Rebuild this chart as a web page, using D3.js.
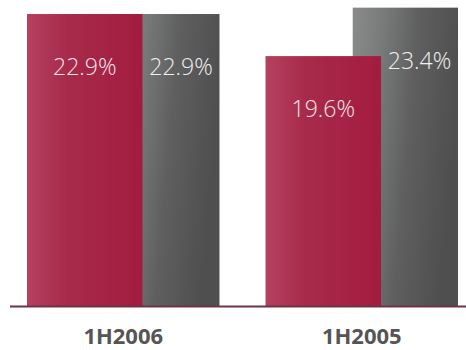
<!DOCTYPE html>
<html>
<head>
<meta charset="utf-8">
<script src="https://cdn.jsdelivr.net/npm/d3@7"></script>
<style>
  html, body { margin: 0; padding: 0; background: #fff; }
  svg { display: block; }
</style>
</head>
<body>
<svg id="chart" width="466" height="350"></svg>
<script>
// Half-year periods and the two compared series (percent)
const categories = ["1H2006", "1H2005"];
const seriesRed = [22.9, 19.6];
const seriesGrey = [22.9, 23.4];

const W = 466, H = 350;
const svg = d3.select("#chart");

const x = d3.scaleBand()
  .domain(categories)
  .range([27, 458])
  .paddingInner(0.193)
  .paddingOuter(0);

const y = d3.scaleLinear().domain([0, 24]).range([306, 0]);

// Position of each series inside a group (fractions of the group band)
const redSpan = [0, 0.6];
const greySpan = [0.453, 1.0];

const defs = svg.append("defs");
const redGrad = defs.append("linearGradient").attr("id", "gRed")
  .attr("x1", 0).attr("x2", 1).attr("y1", 0).attr("y2", 0);
redGrad.append("stop").attr("offset", "0%").attr("stop-color", "#b4415f");
redGrad.append("stop").attr("offset", "35%").attr("stop-color", "#a82a4b");
redGrad.append("stop").attr("offset", "100%").attr("stop-color", "#a31c3f");

const greyGrad = defs.append("linearGradient").attr("id", "gGrey")
  .attr("x1", 0).attr("x2", 1).attr("y1", 0).attr("y2", 0.25);
greyGrad.append("stop").attr("offset", "0%").attr("stop-color", "#8a8a8a");
greyGrad.append("stop").attr("offset", "25%").attr("stop-color", "#7b7d7d");
greyGrad.append("stop").attr("offset", "60%").attr("stop-color", "#5f5f5f");
greyGrad.append("stop").attr("offset", "100%").attr("stop-color", "#4f4f4f");

const bw = x.bandwidth();
const g = svg.append("g");

// Grey bars sit behind, red bars overlap them
g.selectAll("rect.grey").data(categories).join("rect")
  .attr("class", "grey")
  .attr("x", d => x(d) + greySpan[0] * bw)
  .attr("width", (greySpan[1] - greySpan[0]) * bw)
  .attr("y", (d, i) => y(seriesGrey[i]))
  .attr("height", (d, i) => y(0) - y(seriesGrey[i]))
  .attr("fill", "url(#gGrey)");

g.selectAll("rect.red").data(categories).join("rect")
  .attr("class", "red")
  .attr("x", d => x(d) + redSpan[0] * bw)
  .attr("width", (redSpan[1] - redSpan[0]) * bw)
  .attr("y", (d, i) => y(seriesRed[i]))
  .attr("height", (d, i) => y(0) - y(seriesRed[i]))
  .attr("fill", "url(#gRed)");

// Baseline
svg.append("line")
  .attr("x1", 10).attr("x2", W)
  .attr("y1", y(0) + 0.5).attr("y2", y(0) + 0.5)
  .attr("stroke", "#6a3446").attr("stroke-width", 2);

const valueFont = "'Open Sans', 'DejaVu Sans', sans-serif";
const fmt = v => d3.format(".1f")(v) + "%";

// Value labels, centred on the visible part of each bar
g.selectAll("text.redLbl").data(categories).join("text")
  .attr("class", "redLbl")
  .attr("x", d => x(d) + (redSpan[0] + redSpan[1]) / 2 * bw)
  .attr("y", (d, i) => y(seriesRed[i]) + 53)
  .attr("dy", "0.35em")
  .attr("text-anchor", "middle")
  .attr("font-family", valueFont).attr("font-weight", 300)
  .attr("font-size", 23).attr("fill", "#f6e6ea")
  .text((d, i) => fmt(seriesRed[i]));

g.selectAll("text.greyLbl").data(categories).join("text")
  .attr("class", "greyLbl")
  .attr("x", d => x(d) + (redSpan[1] + greySpan[1]) / 2 * bw)
  .attr("y", (d, i) => y(seriesGrey[i]) + 53)
  .attr("dy", "0.35em")
  .attr("text-anchor", "middle")
  .attr("font-family", valueFont).attr("font-weight", 300)
  .attr("font-size", 23).attr("fill", "#f0f0f0")
  .text((d, i) => fmt(seriesGrey[i]));

// Category axis labels
const xAxis = d3.axisBottom(x).tickSize(0).tickPadding(0);
const ax = svg.append("g").attr("transform", `translate(0, ${y(0) + 38})`).call(xAxis);
ax.select(".domain").remove();
ax.selectAll("text")
  .attr("y", 0)
  .attr("dy", "0")
  .attr("font-family", "'Open Sans', 'DejaVu Sans', sans-serif")
  .attr("font-weight", 700)
  .attr("font-size", 22)
  .attr("fill", "#555555");
</script>
</body>
</html>
